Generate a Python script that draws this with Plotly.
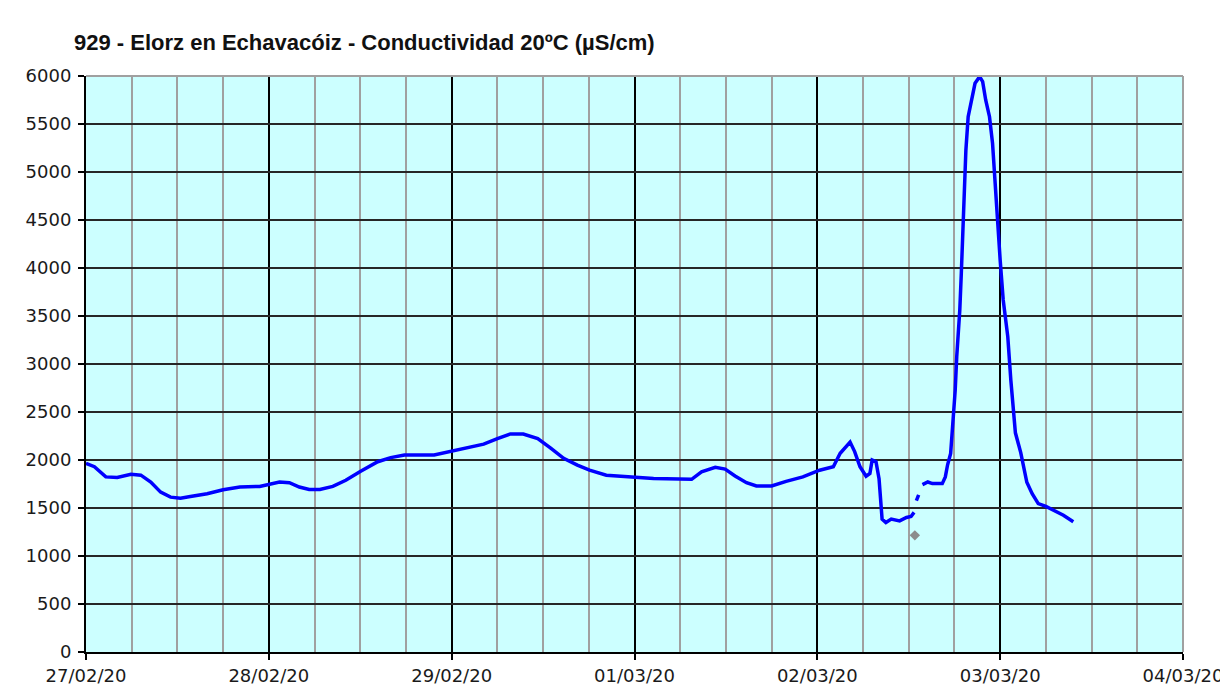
import plotly.graph_objects as go

# Conductividad 20ºC (µS/cm) - estación 929, Elorz en Echavacóiz
times = [
    "2020-02-27 00:00", "2020-02-27 01:06", "2020-02-27 02:36", "2020-02-27 04:06",
    "2020-02-27 05:54", "2020-02-27 07:12", "2020-02-27 08:30", "2020-02-27 09:48",
    "2020-02-27 11:06", "2020-02-27 12:24", "2020-02-27 13:42", "2020-02-27 15:54",
    "2020-02-27 18:00", "2020-02-27 20:12", "2020-02-27 22:48", "2020-02-28 00:00",
    "2020-02-28 01:24", "2020-02-28 02:42", "2020-02-28 04:00", "2020-02-28 05:18",
    "2020-02-28 06:42", "2020-02-28 08:24", "2020-02-28 10:06", "2020-02-28 12:00",
    "2020-02-28 14:18", "2020-02-28 16:00", "2020-02-28 17:48", "2020-02-28 21:42",
    "2020-02-28 23:54", "2020-02-29 02:00", "2020-02-29 04:12", "2020-02-29 06:00",
    "2020-02-29 07:42", "2020-02-29 09:24", "2020-02-29 11:18", "2020-02-29 13:00",
    "2020-02-29 14:42", "2020-02-29 16:30", "2020-02-29 18:06", "2020-02-29 20:18",
    "2020-02-29 22:30", "2020-03-01 00:30", "2020-03-01 02:30", "2020-03-01 07:30",
    "2020-03-01 08:48", "2020-03-01 10:36", "2020-03-01 11:54", "2020-03-01 13:12",
    "2020-03-01 14:42", "2020-03-01 16:00", "2020-03-01 18:00", "2020-03-01 19:54",
    "2020-03-01 22:06", "2020-03-02 00:18", "2020-03-02 02:06", "2020-03-02 03:00",
    "2020-03-02 03:36", "2020-03-02 04:18", "2020-03-02 04:54", "2020-03-02 05:36",
    "2020-03-02 06:24", "2020-03-02 06:54", "2020-03-02 07:12", "2020-03-02 07:42",
    "2020-03-02 08:06", "2020-03-02 08:18", "2020-03-02 08:30", "2020-03-02 09:00",
    "2020-03-02 09:42", "2020-03-02 10:48", "2020-03-02 11:42", "2020-03-02 12:18",
    "2020-03-02 12:42", "2020-03-02 12:50", "2020-03-02 13:00", "2020-03-02 13:18",
    "2020-03-02 13:30", "2020-03-02 13:48", "2020-03-02 14:30", "2020-03-02 15:06",
    "2020-03-02 16:24", "2020-03-02 16:48", "2020-03-02 17:06", "2020-03-02 17:30",
    "2020-03-02 17:48", "2020-03-02 18:06", "2020-03-02 18:18", "2020-03-02 18:42",
    "2020-03-02 18:54", "2020-03-02 19:06", "2020-03-02 19:18", "2020-03-02 19:30",
    "2020-03-02 19:48", "2020-03-02 20:18", "2020-03-02 20:42", "2020-03-02 21:18",
    "2020-03-02 21:42", "2020-03-02 22:06", "2020-03-02 22:36", "2020-03-02 23:00",
    "2020-03-02 23:18", "2020-03-02 23:42", "2020-03-03 00:00", "2020-03-03 00:24",
    "2020-03-03 01:00", "2020-03-03 01:24", "2020-03-03 01:42", "2020-03-03 02:00",
    "2020-03-03 02:42", "2020-03-03 03:06", "2020-03-03 03:30", "2020-03-03 04:12",
    "2020-03-03 05:00", "2020-03-03 06:00", "2020-03-03 07:00", "2020-03-03 08:18",
    "2020-03-03 09:36",
]
conductividad = [
    1965, 1930, 1824, 1817, 1852, 1842, 1771, 1665,
    1613, 1602, 1620, 1648, 1690, 1718, 1725, 1746,
    1771, 1764, 1718, 1694, 1694, 1725, 1789, 1880,
    1982, 2025, 2053, 2053, 2088, 2130, 2165, 2222,
    2271, 2271, 2222, 2123, 2018, 1947, 1894, 1842,
    1830, 1815, 1806, 1799, 1877, 1923, 1905, 1834,
    1764, 1729, 1729, 1778, 1824, 1894, 1930, 2070,
    2130, 2187, 2088, 1930, 1831, 1859, 2000, 1982,
    1806, 1595, 1384, 1349, 1384, 1366, 1401, 1412,
    1454, None, 1577, 1637, None, 1743, 1771, 1754,
    1754, 1824, 1950, 2069, 2347, 2729, 3076, 3562,
    3944, 4361, 4812, 5229, 5576, 5750, 5924, 5993,
    5941, 5750, 5576, 5299, 4917, 4535, 4083, 3667,
    3285, 2833, 2524, 2283, 2077, 1923, 1768, 1648,
    1545, 1517, 1476, 1424, 1356,
]

# punto aislado (gris)
punto_time = ["2020-03-02 12:48"]
punto_valor = [1215]

x_range = ["2020-02-27", "2020-03-04"]
y_range = [0, 6000]

fig = go.Figure()

fig.add_trace(go.Scatter(
    x=times, y=conductividad,
    mode='lines',
    line=dict(color='#0000FF', width=3.5),
    connectgaps=False,
    showlegend=False
))

fig.add_trace(go.Scatter(
    x=punto_time, y=punto_valor,
    mode='markers',
    marker=dict(symbol='diamond', size=8, color='#8C8C8C'),
    showlegend=False
))

# borde gris arriba y a la derecha
fig.add_shape(type='line', xref='paper', yref='paper', x0=0, x1=1, y0=1, y1=1,
              line=dict(color='#A0A0A0', width=2), layer='above')
fig.add_shape(type='line', xref='paper', yref='paper', x0=1, x1=1, y0=0, y1=1,
              line=dict(color='#A0A0A0', width=2), layer='above')

# la página añade 8 px de margen, la figura se desplaza en consecuencia
fig.update_layout(
    width=1220, height=685,
    margin=dict(l=78, r=45, t=68, b=41, autoexpand=False),
    paper_bgcolor='white',
    plot_bgcolor='#CCFFFF',
    title=dict(
        text="929 - Elorz en Echavacóiz - Conductividad 20ºC (µS/cm)",
        font=dict(family="Liberation Sans", size=22, color='#111111', weight='bold'),
        x=66 / 1220, xref='container', xanchor='left',
        y=1 - 34 / 685, yref='container', yanchor='middle'
    ),
    xaxis=dict(
        type='date', range=x_range, automargin=False,
        dtick=86400000, tick0="2020-02-27", tickformat="%d/%m/%y",
        showgrid=True, gridcolor='#000000', gridwidth=1.5,
        minor=dict(dtick=21600000, showgrid=True, gridcolor='#A0A0A0', gridwidth=1.5),
        showline=True, linecolor='#000000', linewidth=2,
        ticks='outside', ticklen=6, tickcolor='#000000', tickwidth=1.5,
        tickfont=dict(family="DejaVu Sans", size=18, color='#1a1a1a'),
        zeroline=False, fixedrange=True
    ),
    yaxis=dict(
        range=y_range, dtick=500, automargin=False,
        showgrid=True, gridcolor='#262626', gridwidth=1.5,
        showline=True, linecolor='#000000', linewidth=2,
        ticks='outside', ticklen=6, tickcolor='#000000', tickwidth=1.5,
        ticklabelstandoff=3,
        tickfont=dict(family="DejaVu Sans", size=18, color='#1a1a1a'),
        zeroline=False, fixedrange=True
    ),
)

fig.write_html("out.html")
